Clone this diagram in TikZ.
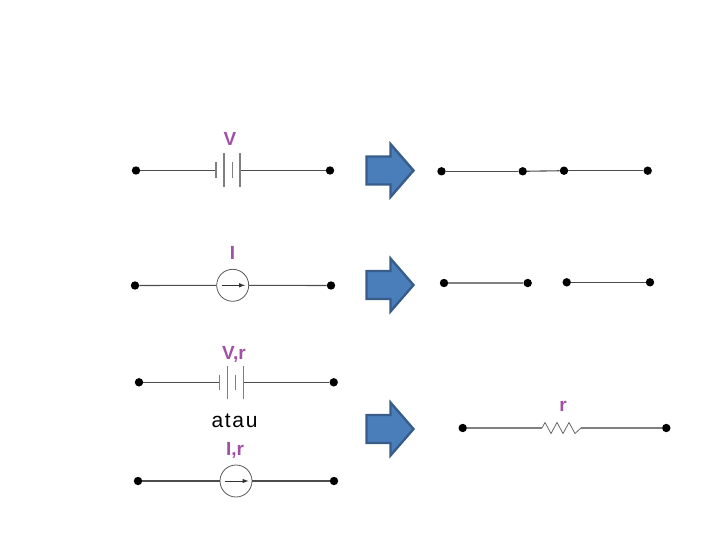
\documentclass[tikz,border=0pt]{standalone}
\usepackage{xcolor}
\usepackage{fontspec}
\setmainfont{Liberation Sans}
\usetikzlibrary{shapes,arrows}
\definecolor{labelpurple}{HTML}{A24FA6}
\definecolor{arrowfill}{HTML}{4A7EBB}
\definecolor{arrowline}{HTML}{385D8A}
\tikzset{
	dot/.style={circle,fill=black,inner sep=0pt,minimum size=8.4pt},
	wire/.style={draw=black!70,line width=1.1pt},
	plate/.style={draw=black!50,line width=1.1pt},
	source/.style={circle,draw=black!65,line width=0.8pt,inner sep=0pt,minimum size=32pt},
	val/.style={text=labelpurple,font=\bfseries\fontsize{19}{19}\selectfont,inner sep=0pt,anchor=base},
	bigarrow/.style={fill=arrowfill,draw=arrowline,line width=2.4pt,miter limit=10}
}
\begin{document}
\begin{tikzpicture}[x=1pt,y=-1pt]
	\useasboundingbox (0,0) rectangle (720,540);
	% blue arrows
	\foreach \y in {170.5,285,429}
		\draw[bigarrow] (366.5,\y-14) -- (390.5,\y-14) -- (390.5,\y-26.5) -- (413.5,\y) -- (390.5,\y+26.5) -- (390.5,\y+14) -- (366.5,\y+14) -- cycle;
	% voltage source
	\node[val] (labV) at (230,146) {V};
	\node[dot] (va) at (136,170.5) {};
	\node[dot] (vb) at (330,170.5) {};
	\coordinate (vp1) at (216,170.5);
	\coordinate (vp2) at (240,170.5);
	\draw[wire] (va) -- (vp1);
	\draw[wire] (vp2) -- (vb);
	\draw[plate] (216,162.5) -- (216,178.5);
	\draw[plate] (224,153.5) -- (224,187);
	\draw[plate] (232.5,162.5) -- (232.5,178.5);
	\draw[plate] (240,153.5) -- (240,187);
	% current source
	\node[val] (labI) at (232.5,259.5) {I};
	\node[dot] (ia) at (135,285.5) {};
	\node[dot] (ib) at (331,285.5) {};
	\node[source] (is) at (232.7,285.3) {};
	\draw[wire] (ia) -- (is);
	\draw[wire] (is) -- (ib);
	\draw[-latex,black!80,line width=1pt] (221.5,285.3) -- (245,285.3);
	% voltage source with r
	\node[val] (labVr) at (234,359.5) {V,r};
	\node[dot] (ra) at (139,382.3) {};
	\node[dot] (rb) at (333.7,382.3) {};
	\coordinate (rp1) at (219.3,382.3);
	\coordinate (rp2) at (243.7,382.3);
	\draw[wire] (ra) -- (rp1);
	\draw[wire] (rp2) -- (rb);
	\draw[plate] (219.3,374.5) -- (219.3,390);
	\draw[plate] (227.5,366) -- (227.5,398.5);
	\draw[plate] (235.5,374.5) -- (235.5,390);
	\draw[plate] (243.7,366) -- (243.7,398.5);
	\node[inner sep=0pt,anchor=base,font=\fontsize{21}{21}\selectfont\addfontfeature{LetterSpace=8}] (atau) at (234.5,427.7) {atau};
	% current source with r
	\node[val] (labIr) at (235,455.7) {I,r};
	\node[dot] (sa) at (138,481) {};
	\node[dot] (sb) at (334,481) {};
	\node[source] (sr) at (236,481) {};
	\draw[wire] (sa) -- (sr);
	\draw[wire] (sr) -- (sb);
	\draw[-latex,black!80,line width=1pt] (225,481) -- (248.5,481);
	% short circuit
	\node[dot] (ca) at (441.5,171.3) {};
	\node[dot] (cb) at (522.7,171.3) {};
	\node[dot] (cc) at (564,170.7) {};
	\node[dot] (cd) at (647.7,170.7) {};
	\draw[wire] (ca) -- (cb);
	\draw[wire] (cb) -- (cc);
	\draw[wire] (cc) -- (cd);
	% open circuit
	\node[dot] (oa) at (444,283) {};
	\node[dot] (ob) at (527.7,283) {};
	\node[dot] (oc) at (566.7,282.3) {};
	\node[dot] (od) at (650,282.3) {};
	\draw[wire,draw=black!50] (oa) -- (ob);
	\draw[wire] (oc) -- (od);
	% resistor
	\node[val] (labr) at (563,411) {r};
	\node[dot] (wa) at (462.7,428) {};
	\node[dot] (wb) at (666.3,428) {};
	\coordinate (w1) at (542,428);
	\coordinate (w2) at (581,428);
	\draw[wire,draw=black!50] (wa) -- (w1);
	\draw[wire,draw=black!50] (w2) -- (wb);
	\draw[black!60,line width=0.8pt] (w1) -- (545,422.5) -- (551,433.5) -- (557,422.5) -- (563,433.5) -- (569,422.5) -- (575,433.5) -- (w2);
\end{tikzpicture}
\end{document}
